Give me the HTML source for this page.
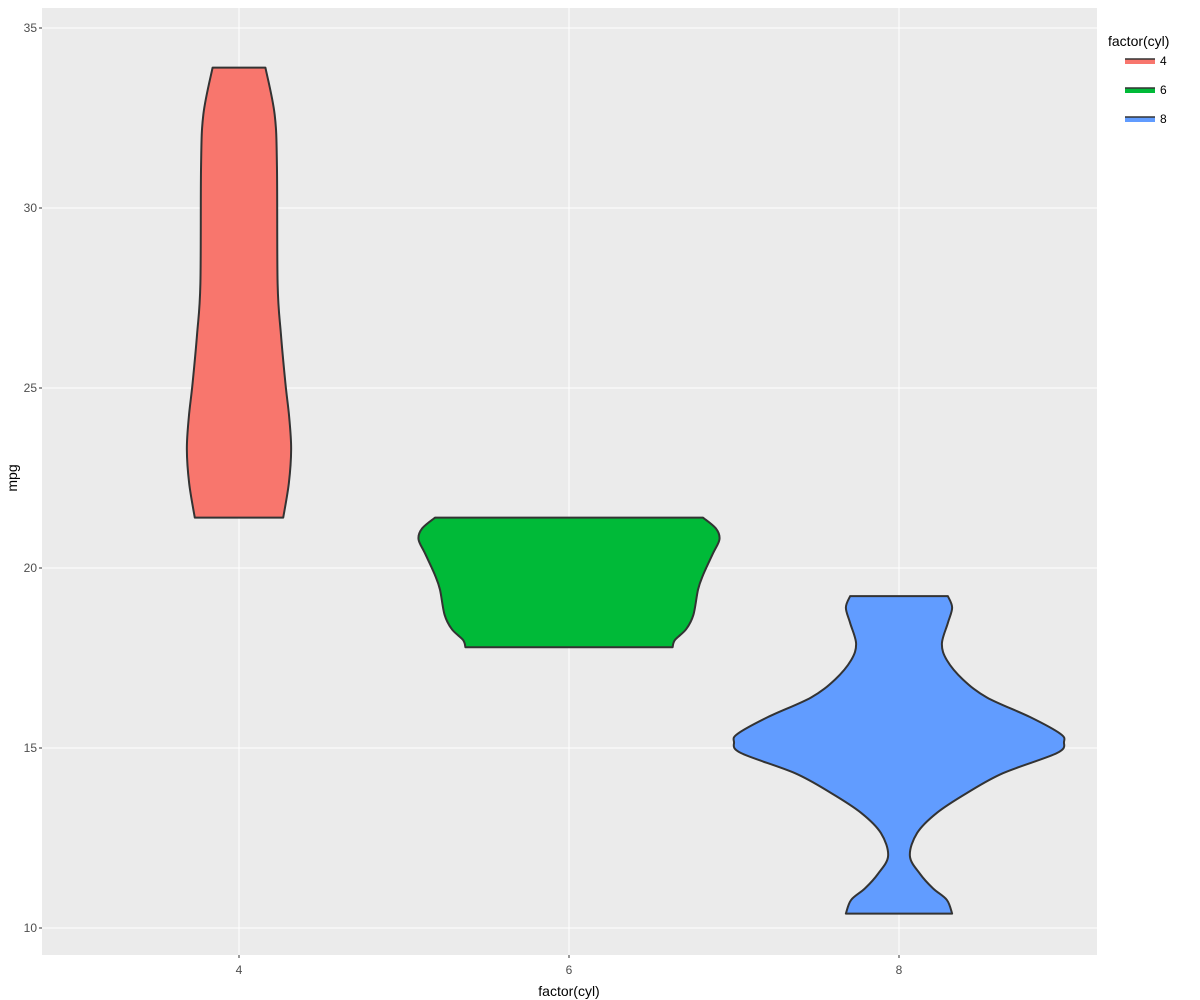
<!DOCTYPE html>
<html><head><meta charset="utf-8"><style>
html,body{margin:0;padding:0;background:#fff;}
svg{display:block;font-family:"Liberation Sans",sans-serif;}
</style></head><body>
<svg id="chart" width="1200" height="1000"></svg>
<script>
const categories = ["4","6","8"];
const colors = ["#F8766D","#00BA38","#619CFF"];
const yTicks = [10,15,20,25,30,35];
// violin profiles: mpg values and half-widths (in category units)
const mpg4 = [21.4,22.35,23.3,24.2,25.1,26.5,27.9,31.15,32.6,33.9];
const hw4 = [0.134,0.151,0.158,0.152,0.141,0.127,0.117,0.115,0.108,0.080];
const mpg6 = [17.8,18.0,18.3,18.7,19.4,19.8,20.4,20.8,21.1,21.4];
const hw6 = [0.314,0.321,0.355,0.377,0.391,0.406,0.436,0.456,0.445,0.406];
const mpg8 = [10.4,10.78,11.1,11.5,12.0,12.64,13.2,13.75,14.3,14.86,15.17,15.4,15.86,16.4,16.9,17.44,17.9,18.47,18.9,19.22];
const hw8 = [0.161,0.145,0.103,0.064,0.033,0.055,0.115,0.206,0.315,0.479,0.5,0.488,0.397,0.267,0.194,0.145,0.130,0.148,0.161,0.148];

const NS="http://www.w3.org/2000/svg";
const svg=document.getElementById('chart');
const L=42,R=1097,T=8,B=955;
const X=c=>239+330*c;
const Y=v=>928-(v-10)*36;
function mk(tag,attrs,parent){const e=document.createElementNS(NS,tag);for(const k in attrs)e.setAttribute(k,attrs[k]);(parent||svg).appendChild(e);return e;}

const bg=mk('rect',{x:L,y:T,width:R-L,height:B-T,fill:'#EBEBEB'});


yTicks.forEach(v=>{const g=mk('line',{x1:L,x2:R,y1:Y(v),y2:Y(v),stroke:'#fff','stroke-width':1});


const t=mk('text',{x:L-5,y:Y(v)+4,'text-anchor':'end','font-size':12,fill:'#4D4D4D'});t.textContent=v;


const tk=mk('line',{x1:L-3,x2:L,y1:Y(v),y2:Y(v),stroke:'#333'});

});
categories.forEach((c,i)=>{const g=mk('line',{x1:X(i),x2:X(i),y1:T,y2:B,stroke:'#fff','stroke-width':1});


const t=mk('text',{x:X(i),y:B+19,'text-anchor':'middle','font-size':12,fill:'#4D4D4D'});t.textContent=c;


const tk=mk('line',{x1:X(i),x2:X(i),y1:B,y2:B+3,stroke:'#333'});

});

function smooth(pts){let d='M'+pts[0][0]+','+pts[0][1];for(let i=0;i<pts.length-1;i++){const p0=pts[Math.max(0,i-1)],p1=pts[i],p2=pts[i+1],p3=pts[Math.min(pts.length-1,i+2)];
d+=' C'+(p1[0]+(p2[0]-p0[0])/6)+','+(p1[1]+(p2[1]-p0[1])/6)+' '+(p2[0]-(p3[0]-p1[0])/6)+','+(p2[1]-(p3[1]-p1[1])/6)+' '+p2[0]+','+p2[1];}return d;}
function violin(ci,ys,hws){const cx=X(ci);const right=ys.map((v,i)=>[cx+hws[i]*330,Y(v)]);const left=ys.map((v,i)=>[cx-hws[i]*330,Y(v)]).reverse();
let d=smooth(right);d+=' L'+left[0][0]+','+left[0][1]+smooth(left).replace(/^M[^C]*/,' ')+' Z';
const p=mk('path',{d:d,fill:colors[ci],stroke:'#333','stroke-width':2,'stroke-linejoin':'round'});

}
violin(0,mpg4,hw4);violin(1,mpg6,hw6);violin(2,mpg8,hw8);

const yt=mk('text',{x:17,y:Y(22.5),'text-anchor':'middle','font-size':14,fill:'#000',transform:'rotate(-90 17 '+Y(22.5)+')'});yt.textContent='mpg';


const xt=mk('text',{x:569,y:996,'text-anchor':'middle','font-size':14,fill:'#000'});xt.textContent='factor(cyl)';


const lt=mk('text',{x:1108,y:46,'font-size':14,fill:'#000'});lt.textContent='factor(cyl)';


categories.forEach((c,i)=>{const y=61+i*29;
const g=mk('g',{});


mk('rect',{x:1125,y:y-2,width:30,height:5,fill:colors[i]},g);
mk('line',{x1:1125,x2:1155,y1:y-2,y2:y-2,stroke:'#333','stroke-width':1.5},g);
const t=mk('text',{x:1160,y:y+4,'font-size':12,fill:'#000'},g);t.textContent=c;});
</script>
</body></html>
